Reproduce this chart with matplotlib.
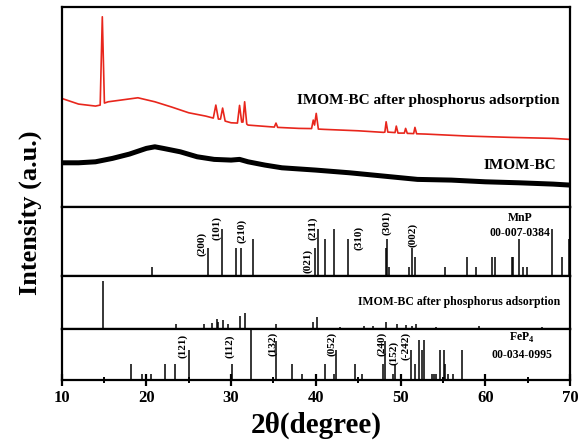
import matplotlib
matplotlib.use("Agg")
import matplotlib.pyplot as plt

plt.rcParams['font.family'] = ['Liberation Serif', 'DejaVu Serif']
plt.rcParams['font.weight'] = 'bold'
plt.rcParams['mathtext.fontset'] = 'custom'
plt.rcParams['mathtext.rm'] = 'Liberation Serif:bold'

# ---- measured XRD traces (2theta, intensity a.u.) ----
red_tt = [10, 12, 14, 14.55, 14.8, 15.05, 15.5, 17, 19, 21, 23, 25, 27, 27.9, 28.2, 28.5,
          28.75, 29.0, 29.3, 30, 30.75, 31.0, 31.25, 31.4, 31.6, 31.85, 32, 35.1, 35.3, 35.5,
          38, 39.5, 39.7, 39.85, 40.05, 40.3, 41, 45, 48, 48.15, 48.3, 48.5, 49.35, 49.5, 49.7,
          50.45, 50.6, 50.8, 51.55, 51.7, 51.9, 53, 58, 63, 68, 70]
red_int = [108.7, 103, 101, 102, 190.3, 104, 105.3, 107, 109.3, 105.3, 100, 94.3, 91, 89, 102, 88,
           88, 99, 86, 84.3, 84, 101.7, 85, 85, 105.3, 83, 82, 80, 84, 79.7,
           78.7, 78.5, 87, 82, 93.7, 78, 77.7, 76.3, 74.7, 75, 85.3, 75, 74.5, 81, 74,
           74, 78.7, 73.7, 73.5, 79.7, 73.3, 73, 71, 69.7, 68.7, 67.7]

black_tt = [10, 12, 14, 16, 18, 20, 21, 22, 24, 26, 28, 30, 31, 32, 34, 36, 40, 44, 48, 52,
            56, 60, 64, 68, 70]
black_int = [44.3, 44.3, 45.3, 48.7, 53, 58.7, 60.3, 58.7, 55.3, 50.3, 47.7, 47, 47.7, 45.3,
             42, 39.3, 37, 34.3, 31, 27.7, 27, 25.3, 24.3, 23, 22]

# ---- MnP 00-007-0384 reference sticks ----
mnp_tt = [20.7, 27.3, 28.9, 30.6, 31.2, 32.55, 39.87, 40.26, 41.1, 42.15, 43.8, 48.25, 48.45,
          48.65, 51.0, 51.4, 51.7, 55.3, 57.9, 58.9, 60.8, 61.2, 63.1, 63.3, 64.0, 64.5, 64.9,
          67.9, 69.1, 69.9]
mnp_int = [20, 60, 100, 60, 60, 80, 60, 100, 80, 100, 80, 60, 80,
           20, 20, 60, 40, 20, 40, 20, 40, 40, 40, 40, 80, 20, 20,
           100, 40, 80]
mnp_hkl = ['(200)', '(101)', '(210)', '(021)', '(211)', '(310)', '(301)', '(002)']
mnp_hkl_tt = [26.5, 28.3, 31.3, 39.0, 39.6, 45.05, 48.4, 51.4]
mnp_hkl_y = [0.46, 0.70, 0.65, 0.22, 0.70, 0.55, 0.77, 0.59]

# ---- peaks of IMOM-BC after phosphorus adsorption ----
ads_tt = [14.9, 23.5, 26.8, 27.7, 28.3, 28.5, 29.0, 29.6, 31.0, 31.6, 35.35, 39.7, 40.1,
          42.8, 45.7, 46.8, 48.3, 49.6, 50.6, 51.3, 51.8, 54.2, 59.3, 66.7]
ads_int = [100, 10, 10, 12.5, 21, 15, 19, 10, 27, 33, 10, 15, 25,
           4, 6, 6, 15, 10, 8, 6, 10, 4, 6, 4]

# ---- FeP4 00-034-0995 reference sticks ----
fep_tt = [18.2, 19.5, 20.6, 22.2, 23.4, 25.0, 30.1, 32.3, 35.3, 37.2, 38.4, 41.05, 42.1,
          42.35, 44.6, 45.5, 47.9, 48.15, 49.1, 49.3, 51.2, 51.7, 52.2, 52.5, 52.8, 53.7,
          53.9, 54.2, 54.6, 55.1, 55.3, 55.6, 56.2, 57.3]
fep_int = [31, 12, 12, 31, 31, 59, 31, 100, 76, 31, 12, 31, 12,
           59, 31, 12, 31, 76, 12, 31, 59, 31, 78, 59, 78, 12,
           12, 12, 59, 59, 31, 12, 12, 59]
fep_hkl = ['(121)', '(112)', '(132)', '(052)', '(240)', '(152)', '(-242)']
fep_hkl_tt = [24.25, 29.85, 34.9, 41.85, 47.75, 49.2, 50.6]
fep_hkl_y = [0.67, 0.66, 0.71, 0.71, 0.71, 0.54, 0.67]

fig = plt.figure(figsize=(5.87, 4.41), dpi=100)
gs = fig.add_gridspec(4, 1, height_ratios=[200, 69, 53, 51], hspace=0,
                      left=0.105, right=0.971, top=0.984, bottom=0.138)
ax1 = fig.add_subplot(gs[0])
ax2 = fig.add_subplot(gs[1], sharex=ax1)
ax3 = fig.add_subplot(gs[2], sharex=ax1)
ax4 = fig.add_subplot(gs[3], sharex=ax1)

ax1.plot(black_tt, black_int, color='black', lw=3.6)
ax1.plot(red_tt, red_int, color='#e8261c', lw=1.2)
ax1.set_ylim(0, 200)
ax1.text(68.8, 107, 'IMOM-BC after phosphorus adsorption', ha='right', va='center', fontsize=11)
ax1.text(68.4, 42, 'IMOM-BC', ha='right', va='center', fontsize=11)

ax2.vlines(mnp_tt, 0, mnp_int, color='black', lw=1.1)
ax2.set_ylim(0, 146.8)
for lab, t, y in zip(mnp_hkl, mnp_hkl_tt, mnp_hkl_y):
    ax2.text(t, y, lab, rotation=90, ha='center', va='center', fontsize=8,
             transform=ax2.get_xaxis_transform())
ax2.text(64.1, 0.84, 'MnP', ha='center', va='center', fontsize=8.5, transform=ax2.get_xaxis_transform())
ax2.text(64.1, 0.62, '00-007-0384', ha='center', va='center', fontsize=8.5,
         transform=ax2.get_xaxis_transform())

ax3.vlines(ads_tt, 0, ads_int, color='black', lw=1.1)
ax3.set_ylim(0, 110)
ax3.text(68.8, 0.515, 'IMOM-BC after phosphorus adsorption', ha='right', va='center', fontsize=8.5,
         transform=ax3.get_xaxis_transform())

ax4.vlines(fep_tt, 0, fep_int, color='black', lw=1.1)
ax4.set_ylim(0, 100)
for lab, t, y in zip(fep_hkl, fep_hkl_tt, fep_hkl_y):
    ax4.text(t, y, lab, rotation=90, ha='center', va='center', fontsize=8,
             transform=ax4.get_xaxis_transform())
ax4.text(64.3, 0.82, r'FeP$_4$', ha='center', va='center', fontsize=8.5,
         transform=ax4.get_xaxis_transform())
ax4.text(64.3, 0.49, '00-034-0995', ha='center', va='center', fontsize=8.5,
         transform=ax4.get_xaxis_transform())

for ax in [ax1, ax2, ax3, ax4]:
    ax.set_yticks([])
    for s in ax.spines.values():
        s.set_linewidth(1.6)
    ax.tick_params(axis='x', which='both', bottom=False, labelbottom=False)

ax4.set_xlim(10, 70)
ax4.set_xticks([10, 20, 30, 40, 50, 60, 70])
ax4.set_xticks([15, 25, 35, 45, 55, 65], minor=True)
ax4.tick_params(axis='x', which='major', bottom=True, labelbottom=True, direction='inout',
                length=8, width=1.6, labelsize=12, pad=3)
ax4.tick_params(axis='x', which='minor', bottom=True, direction='inout', length=5, width=1.4)

fig.text(0.052, 1 - 213 / 441, 'Intensity (a.u.)', rotation=90, ha='center', va='center', fontsize=19)
fig.text(316 / 587, 1 - 425 / 441, '2θ(degree)', ha='center', va='center', fontsize=21)

plt.savefig('out.png', dpi=100)
